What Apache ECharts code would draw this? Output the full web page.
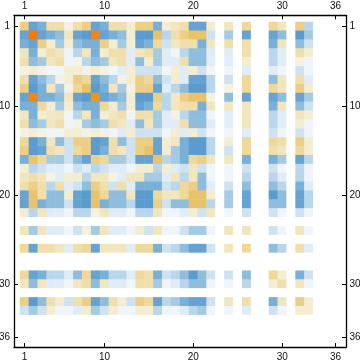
<!DOCTYPE html>
<html><head><meta charset="utf-8">
<style>html,body{margin:0;padding:0;background:#fff}#c{width:360px;height:363px}</style>
<script src="https://cdn.jsdelivr.net/npm/echarts@6/dist/echarts.min.js"></script>
</head><body><div id="c"></div>
<script>
const tickLabels = [1, 10, 20, 30, 36];
const categories = Array.from({length: 36}, (_, i) => String(i + 1));
const empty = new Array(36).fill(0);
//           1  2  3  4  5  6  7  8  9 10 11 12 13 14 15 16 17 18 19 20 21 22 23 24 25 26 27 28 29 30 31 32 33 34 35 36
const row1  = [6,-8,-7, 4, 4, 1, 4, 6,-8,-7, 4, 4, 2, 6, 6,-7, 2, 3, 4,-8,-8, 2, 0, 3, 0, 5, 0, 0, 5, 3, 0, 6,-4, 0, 0, 0];
const row2  = [-8,12,-8,-7,-6, 3,-8,-9,11,-8,-7,-6, 2,-9,-9, 7,-4, 4, 6, 7, 7,-3, 0,-5, 0,-8, 0, 0,-8,-6, 0,-9,-5, 0, 0, 0];
const row3  = [-7,-8, 6, 2,-5, 2,-6,-7,-7, 6, 2,-5, 2,-8,-7, 5,-3, 3, 4, 4,-7, 3, 0, 4, 0, 4, 0, 0,-7, 3, 0,-6,-3, 0, 0, 0];
const row4  = [3,-7, 2, 4, 3,-1,-4, 3,-7, 2, 4, 4,-2, 3, 4,-5,-2,-1,-4,-6,-6,-2, 0,-2, 0, 4, 0, 0,-4,-2, 0, 4, 2, 0, 0, 0];
const row5  = [4,-6,-5, 3, 4,-1, 1,-4,-6,-5, 3, 4,-2,-6, 2,-5,-2,-2, 4,-6,-6,-2, 0,-2, 0, 2, 0, 0,-4,-2, 0, 1,-1, 0, 0, 0];
const row6  = [1, 2, 1,-1,-1, 2, 2, 1, 2, 1,-1,-2, 2,-3,-3,-3,-1, 2,-2, 2,-3,-1, 0,-1, 0,-2, 0, 0,-2,-1, 0,-3,-1, 0, 0, 0];
const row7  = [4,-8,-6,-4, 1, 2, 6, 5,-8,-6,-4, 1, 2, 6, 5,-6,-3, 2,-2,-8,-8,-4, 0,-3, 0, 5, 0, 0,-6, 3, 0, 4,-2, 0, 0, 0];
const row8  = [6,-9,-7, 3,-5, 1, 5, 7,-9,-7, 3,-5, 1, 6, 6,-8,-2,-4,-6,-9,-9,-4, 0, 1, 0, 5, 0, 0, 5, 3, 0, 6, 2, 0, 0, 0];
const row9  = [-8,11,-7,-7,-6, 3,-8,-9,10,-8,-7,-6, 2,-9,-9, 6,-4, 3, 6, 7, 7, 1, 0,-6, 0,-8, 0, 0,-8,-6, 0,-8,-5, 0, 0, 0];
const row10 = [-7,-7, 5, 2,-5, 2,-6,-7,-7, 5, 2,-5, 2,-8,-7, 5,-4, 3, 4, 4,-7, 3, 0, 3, 0, 3, 0, 0,-7, 3, 0,-6,-3, 0, 0, 0];
const row11 = [3,-7, 2, 3, 3,-1,-4, 3,-7, 2, 3, 4,-1, 4, 4,-5,-2, 1,-4,-6,-6,-1, 0,-2, 0, 3, 0, 0,-4,-2, 0, 3, 2, 0, 0, 0];
const row12 = [4,-6,-5, 3, 4,-1, 1,-5,-6,-5, 4, 3,-2,-6, 3,-5,-2,-2, 4,-6,-6,-2, 0,-2, 0, 3, 0, 0,-4,-2, 0, 2,-1, 0, 0, 0];
const row13 = [1, 2, 1,-1,-1, 2, 2, 1, 2, 1,-1,-2, 2,-3,-3,-3,-1, 2,-2, 2,-3,-1, 0,-1, 0,-2, 0, 0,-3,-1, 0,-3,-1, 0, 0, 0];
const row14 = [5,-9,-7, 3,-6,-3, 6, 6,-9,-8, 4,-6,-3, 6, 6,-8, 2, 3,-7,-9,-9,-4, 0, 2, 0, 5, 0, 0, 5, 4, 0, 6, 2, 0, 0, 0];
const row15 = [6,-9,-8, 4, 3,-3, 5, 6,-9,-7, 4, 3,-3, 6, 7,-8, 2,-5,-7,-9,-9,-4, 0,-3, 0, 5, 0, 0, 4, 3, 0, 5, 2, 0, 0, 0];
const row16 = [-7, 7, 5,-5,-5,-3,-6,-8, 6, 5,-5,-5,-3,-8,-8, 7,-4,-5,-7, 5, 6, 3, 0, 3, 0,-7, 0, 0,-7,-5, 0,-8,-4, 0, 0, 0];
const row17 = [2,-4,-3,-2,-2,-1,-3,-2,-4,-3,-2,-2,-1, 2, 2,-4, 2,-2,-3, 3,-3,-1, 0,-1, 0,-3, 0, 0,-3,-1, 0,-4,-1, 0, 0, 0];
const row18 = [3, 4, 3, 1,-2, 2, 2,-4, 3, 3, 1,-2, 3, 3,-5,-5,-2, 3,-4, 3,-6,-1, 0,-1, 0,-4, 0, 0,-4,-2, 0,-4,-1, 0, 0, 0];
const row19 = [4, 6, 4,-4, 4,-2,-3,-6, 6, 4,-3, 4,-2,-7,-7,-7,-3,-4, 5, 6,-6,-2, 0,-3, 0,-6, 0, 0,-6,-4, 0,-7,-2, 0, 0, 0];
const row20 = [-8, 7, 4,-6,-6, 2,-8,-9, 7, 5,-6,-6, 3,-9,-9, 5, 3, 3, 5, 7, 7, 2, 0,-5, 0,-8, 0, 0,-9,-6, 0,-8,-4, 0, 0, 0];
const row21 = [-8, 7,-7,-6,-6,-3,-8,-9, 7,-7,-6,-6,-4,-9,-9, 6,-3,-6,-6, 7, 7,-4, 0,-5, 0,-8, 0, 0,-6,-6, 0,-8,-4, 0, 0, 0];
const row22 = [2,-4, 3,-2,-2,-1,-4,-4, 1, 3,-2,-2,-1,-4,-4, 3,-1,-1,-2, 2,-3, 3, 0,-1, 0,-3, 0, 0,-3,-1, 0,-3,-1, 0, 0, 0];
const row24 = [3,-5, 3,-2,-2,-1,-3, 1,-5, 3,-2,-2,-1, 2,-3, 3,-1,-1,-3,-5,-5,-1, 0, 3, 0, 3, 0, 0,-3,-1, 0, 3,-1, 0, 0, 0];
const row26 = [5,-8, 4, 4, 3,-2, 4, 5,-8, 3, 3, 3,-2, 5, 5,-7,-3,-4,-6,-8,-8,-3, 0, 3, 0, 5, 0, 0,-6,-4, 0, 4,-2, 0, 0, 0];
const row29 = [5,-8,-7,-4,-4,-2,-6, 5,-8,-7,-4,-4,-2, 5, 4,-7,-3,-4,-6,-9,-6,-3, 0,-3, 0,-6, 0, 0, 5, 2, 0,-7,-3, 0, 0, 0];
const row30 = [3,-6, 3,-2,-2,-1, 3, 4,-6, 3,-2,-2,-1, 4, 4,-5,-1,-2,-4,-6,-6,-1, 0,-1, 0,-4, 0, 0, 2, 4, 0, 3,-1, 0, 0, 0];
const row32 = [6,-9,-6, 4, 2,-3, 4, 6,-8,-6, 4, 2,-3, 6, 5,-8,-4,-5,-7,-8,-8,-3, 0, 3, 0, 4, 0, 0,-7, 3, 0, 6, 2, 0, 0, 0];
const row33 = [-3,-5,-3, 2,-1,-1,-2, 2,-5,-3, 2,-1,-1, 2, 2,-4,-1,-1,-2,-4,-5,-1, 0,-1, 0,-2, 0, 0,-3,-1, 0, 2, 2, 0, 0, 0];
const matrix = [row1,row2,row3,row4,row5,row6,row7,row8,row9,row10,row11,row12,row13,row14,row15,row16,row17,row18,row19,row20,row21,row22,
  empty,row24,empty,row26,empty,empty,row29,row30,empty,row32,row33,empty,empty,empty];
const colorStops = ['#5a9bd0','#66a3d3','#79b0d7','#8fbddc','#a5cbe3','#b9d6ea','#cee2f0','#e1edf6','#eff5fa','#ffffff',
  '#f5f2e4','#f3edd2','#f2e6bf','#f1dfab','#efd999','#eccf85','#e9c36b','#e8b858','#ebab40','#ee9520','#f08616','#f47b00'];

const cells = [];
matrix.forEach((r, y) => r.forEach((v, x) => cells.push([x, y, v])));

const font = {color:'#111', fontFamily:'Liberation Sans', fontSize:10};
const frameAxis = (extra, margin) => Object.assign({
  type:'value', gridIndex:0, z:5, splitLine:{show:false},
  axisLine:{show:true, onZero:false, lineStyle:{color:'#000', width:1.3}},
  axisTick:{show:true, inside:true, length:4, customValues:tickLabels, lineStyle:{color:'#000', width:1}},
  axisLabel:Object.assign({show:true, customValues:tickLabels, hideOverlap:false, showMinLabel:true, showMaxLabel:true, margin:margin}, font)
}, extra);
const xRange = {min:-0.175, max:37.17};
const yRange = {min:-0.244, max:37.08, inverse:true};

const chart = echarts.init(document.getElementById('c'), null, {renderer:'canvas'});
chart.setOption({
  animation:false, backgroundColor:'#fff',
  grid:[
    {left:14, top:15.3, width:332, height:331.7, containLabel:false, outerBoundsMode:'none'},
    {left:20, top:21.9, width:320, height:319.9, containLabel:false, outerBoundsMode:'none'}
  ],
  xAxis:[
    frameAxis(Object.assign({position:'top'}, xRange), 4),
    frameAxis(Object.assign({position:'bottom'}, xRange), 5.5),
    {type:'category', gridIndex:1, data:categories, show:false}
  ],
  yAxis:[
    frameAxis(Object.assign({position:'left'}, yRange), 4),
    frameAxis(Object.assign({position:'right'}, yRange), 3.5),
    {type:'category', gridIndex:1, data:categories, inverse:true, show:false}
  ],
  visualMap:{show:false, min:-9, max:12, seriesIndex:0, dimension:2, inRange:{color:colorStops}},
  series:[{type:'heatmap', xAxisIndex:2, yAxisIndex:2, data:cells, progressive:0, silent:true, itemStyle:{borderWidth:0}}]
});
</script></body></html>
